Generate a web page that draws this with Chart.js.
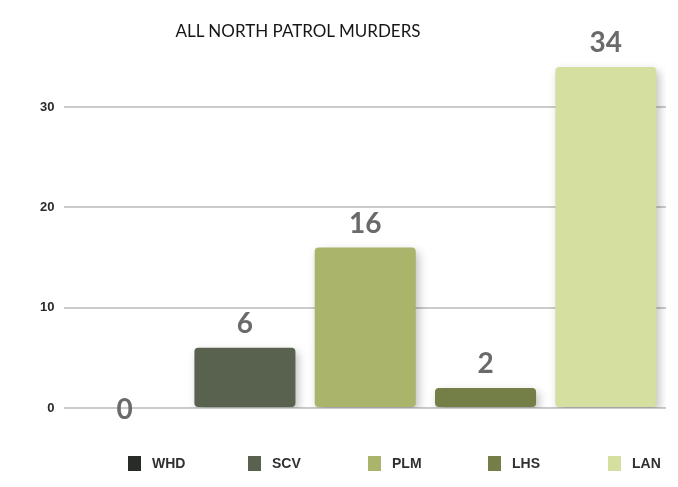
<!DOCTYPE html>
<html>
<head>
<meta charset="utf-8">
<script src="https://cdn.jsdelivr.net/npm/chart.js@4.4.1/dist/chart.umd.min.js"></script>
<style>
  body { margin: 0; background: #fff; }
  #wrap { position: relative; width: 678px; height: 487px; }
  #title {
    position: absolute; left: 0; top: 20px; width: 596px; text-align: center;
    font-family: Lato, "Open Sans", sans-serif; font-size: 17px; color: #151515;
  }
  #legend {
    position: absolute; left: 128px; top: 455px; display: flex;
    font-family: "Liberation Sans", Arial, sans-serif; font-size: 14px;
    font-weight: bold; color: #303030;
  }
  #legend .item { width: 120px; display: flex; align-items: center; }
  #legend .swatch { width: 13px; height: 15px; margin-right: 11px; }
</style>
</head>
<body>
<div id="wrap">
  <div id="title">ALL NORTH PATROL MURDERS</div>
  <canvas id="murderChart" width="678" height="487"></canvas>
  <div id="legend"></div>
</div>
<script>
// Murders per patrol area
const areas = ['WHD', 'SCV', 'PLM', 'LHS', 'LAN'];
const murders = [0, 6, 16, 2, 34];
const areaColors = ['#272c29', '#59614f', '#aab46b', '#737f47', '#d5df9f'];
const yTicks = [0, 10, 20, 30];

// Big grey numbers above each bar
const valueLabels = {
    id: 'valueLabels',
    afterDatasetsDraw(chart) {
        const ctx = chart.ctx;
        const meta = chart.getDatasetMeta(0);
        ctx.save();
        ctx.font = 'bold 28px Lato, "Open Sans", sans-serif';
        ctx.fillStyle = '#6a6a6a';
        ctx.textAlign = 'center';
        ctx.textBaseline = 'bottom';
        meta.data.forEach((bar, i) => {
            const v = chart.data.datasets[0].data[i];
            const y = v === 0 ? bar.y + 16 : bar.y - 10;
            ctx.fillText(String(v), bar.x, y);
        });
        ctx.restore();
    }
};

// Soft drop shadow under the bars
const barShadow = {
    id: 'barShadow',
    beforeDatasetsDraw(chart) {
        const ctx = chart.ctx;
        ctx.save();
        ctx.shadowColor = 'rgba(0,0,0,0.25)';
        ctx.shadowBlur = 10;
        ctx.shadowOffsetX = 3;
        ctx.shadowOffsetY = 4;
    },
    afterDatasetsDraw(chart) {
        chart.ctx.restore();
    }
};

const ctx = document.getElementById('murderChart').getContext('2d');
const murderChart = new Chart(ctx, {
    type: 'bar',
    data: {
        labels: areas,
        datasets: [{
            data: murders,
            backgroundColor: areaColors,
            borderRadius: 4,
            borderSkipped: false,
            barPercentage: 0.84,
            categoryPercentage: 1
        }]
    },
    options: {
        responsive: false,
        animation: false,
        layout: { padding: { left: 30, right: 12, top: 47, bottom: 79 } },
        scales: {
            x: { display: false },
            y: {
                min: 0,
                max: 36,
                afterBuildTicks: axis => {
                    axis.ticks = yTicks.map(v => ({ value: v }));
                },
                border: { display: false },
                grid: { color: '#cbcbcb', lineWidth: 2, drawTicks: false },
                ticks: {
                    padding: 10,
                    color: '#2a2a2a',
                    font: { family: 'Liberation Sans, Arial, sans-serif', size: 13, weight: 'bold' }
                }
            }
        },
        plugins: {
            title: { display: false },
            tooltip: { enabled: false },
            legend: { display: false }
        }
    },
    plugins: [barShadow, valueLabels]
});

// Legend row under the chart
const legendEl = document.getElementById('legend');
areas.forEach((name, i) => {
    const item = document.createElement('div');
    item.className = 'item';
    const swatch = document.createElement('span');
    swatch.className = 'swatch';
    swatch.style.background = areaColors[i];
    item.appendChild(swatch);
    item.appendChild(document.createTextNode(name));
    legendEl.appendChild(item);
});
</script>
</body>
</html>
